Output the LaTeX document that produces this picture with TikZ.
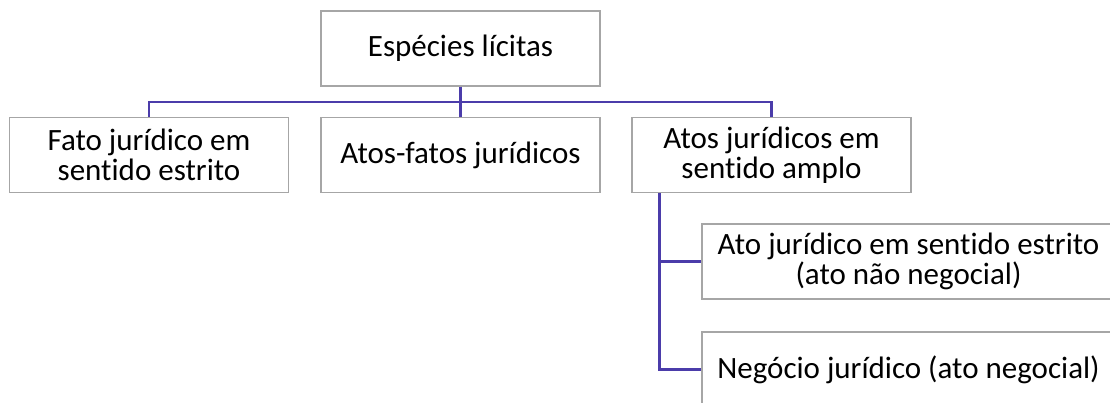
\documentclass[tikz,border=0pt]{standalone}
\usepackage{fontspec}
\setmainfont[Ligatures=NoCommon]{Carlito}
\usepackage{tikz}
\usetikzlibrary{positioning,calc}
\definecolor{linhaazul}{RGB}{75,60,170}
\definecolor{bordacinza}{RGB}{166,166,166}

\begin{document}
\begin{tikzpicture}[x=1pt, y=-1pt,
    caixa/.style={draw=bordacinza, line width=1.4pt, fill=white, inner sep=0pt,
        minimum width=279pt, minimum height=75pt, align=center,
        font=\fontsize{31}{30}\selectfont},
    ligacao/.style={draw=linhaazul, line width=2.4pt}]
    % Page frame (the two lower boxes run past the edges)
    \clip (0,0) rectangle (1110,403);

    % Top level
    \node[caixa] (especies) at (460.5,48.5) {Espécies lícitas};

    % Second level
    \node[caixa] (fato) at (149,155) {Fato jurídico em\\sentido estrito};
    \node[caixa] (atosfatos) at (460.5,155) {Atos-fatos jurídicos};
    \node[caixa] (atos) at (771.5,155) {Atos jurídicos em\\sentido amplo};

    % Third level
    \node[caixa, minimum width=413pt] (atoestrito) at (908.5,261.5) {Ato jurídico em sentido estrito\\(ato não negocial)};
    \node[caixa, minimum width=413pt] (negocio) at (908.5,369.5) {Negócio jurídico (ato negocial)};

    % Connectors
    \coordinate (juncao) at ($(especies.south)!0.5!(atosfatos.north)$);
    \draw[ligacao] (especies.south) -- (atosfatos.north);
    \draw[ligacao] (fato.north) |- (juncao) -| (atos.north);

    \coordinate (ramo) at ([xshift=28pt]atos.south west);
    \draw[ligacao] (ramo) |- (atoestrito.west);
    \draw[ligacao] (ramo) |- (negocio.west);
\end{tikzpicture}
\end{document}
